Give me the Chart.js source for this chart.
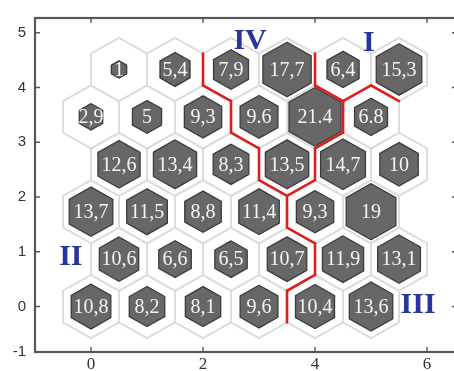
<!DOCTYPE html>
<html>
<head>
<meta charset="utf-8">
<script src="https://cdn.jsdelivr.net/npm/chart.js@4/dist/chart.umd.min.js"></script>
<style>
  html, body { margin: 0; padding: 0; background: #ffffff; overflow: hidden; }
  canvas { display: block; }
</style>
</head>
<body>
<canvas id="som" width="458" height="371"></canvas>
<script>
// Values printed in each map cell, one array per row of the hexagonal grid (bottom row first)
const row0 = ['10,8', '8,2', '8,1', '9,6', '10,4', '13,6'];
const row1 = ['10,6', '6,6', '6,5', '10,7', '11,9', '13,1'];
const row2 = ['13,7', '11,5', '8,8', '11,4', '9,3', '19'];
const row3 = ['12,6', '13,4', '8,3', '13,5', '14,7', '10'];
const row4 = ['2,9', '5', '9,3', '9.6', '21.4', '6.8'];
const row5 = ['1', '5,4', '7,9', '17,7', '6,4', '15,3'];

// Cluster that each cell belongs to, same layout
const cluster0 = ['II', 'II', 'II', 'II', 'III', 'III'];
const cluster1 = ['II', 'II', 'II', 'II', 'III', 'III'];
const cluster2 = ['II', 'II', 'II', 'II', 'III', 'III'];
const cluster3 = ['II', 'II', 'II', 'IV', 'III', 'III'];
const cluster4 = ['II', 'II', 'II', 'IV', 'IV', 'III'];
const cluster5 = ['II', 'II', 'IV', 'IV', 'I', 'I'];

// Cluster names and where they are written
const regionNames = ['I', 'II', 'III', 'IV'];
const regionX = [4.96, -0.36, 5.84, 2.84];
const regionY = [4.80, 0.90, 0.02, 4.84];

// Axis ticks
const xTicks = [0, 2, 4, 6];
const yTicks = [-1, 0, 1, 2, 3, 4, 5];

const X_MIN = -1, X_MAX = 6.535;
const Y_MIN = -0.83, Y_MAX = 5.27;

// ---- build the grid ----
const rows = [row0, row1, row2, row3, row4, row5];
const clusters = [cluster0, cluster1, cluster2, cluster3, cluster4, cluster5];
const HEX_R = 1 / Math.sqrt(3);          // circumradius of a unit-width pointy-top hexagon
const ROW_STEP = Math.sqrt(3) / 2;

const cells = [];
rows.forEach((row, r) => {
  row.forEach((label, c) => {
    cells.push({
      x: c + (r % 2 ? 0.5 : 0),
      y: r * ROW_STEP,
      label: label,
      value: parseFloat(label.replace(',', '.')),
      cluster: clusters[r][c]
    });
  });
});
const maxValue = Math.max(...cells.map(d => d.value));

// Edges shared by neighbouring cells of different clusters
const borders = [];
for (let i = 0; i < cells.length; i++) {
  for (let j = i + 1; j < cells.length; j++) {
    const a = cells[i], b = cells[j];
    const dx = b.x - a.x, dy = b.y - a.y, d = Math.hypot(dx, dy);
    if (Math.abs(d - 1) > 0.01 || a.cluster === b.cluster) continue;
    const mx = (a.x + b.x) / 2, my = (a.y + b.y) / 2;
    const px = -dy / d * HEX_R / 2, py = dx / d * HEX_R / 2;
    borders.push([{ x: mx - px, y: my - py }, { x: mx + px, y: my + py }]);
  }
}

function hexPath(ctx, xs, ys, cx, cy, r) {
  ctx.beginPath();
  for (let k = 0; k < 6; k++) {
    const a = Math.PI / 2 + k * Math.PI / 3;
    const px = xs.getPixelForValue(cx + r * Math.cos(a));
    const py = ys.getPixelForValue(cy + r * Math.sin(a));
    if (k === 0) ctx.moveTo(px, py); else ctx.lineTo(px, py);
  }
  ctx.closePath();
}

// Draws the hexagonal cells of the first dataset
const hexCells = {
  id: 'hexCells',
  beforeDatasetsDraw(chart) {
    const { ctx, chartArea, scales: { x, y } } = chart;
    const data = chart.data.datasets[0].data;
    ctx.save();
    ctx.beginPath();
    ctx.rect(chartArea.left, chartArea.top, chartArea.right - chartArea.left, chartArea.bottom - chartArea.top);
    ctx.clip();
    // cell outlines
    ctx.lineWidth = 2;
    ctx.strokeStyle = '#dcdcdc';
    ctx.fillStyle = '#ffffff';
    data.forEach(d => {
      hexPath(ctx, x, y, d.x, d.y, HEX_R);
      ctx.fill();
      ctx.stroke();
    });
    // value hexagons
    ctx.lineWidth = 1.3;
    ctx.strokeStyle = '#3c3c3c';
    ctx.fillStyle = '#676767';
    data.forEach(d => {
      const f = 0.93 * Math.pow(d.value / maxValue, 0.4);
      hexPath(ctx, x, y, d.x, d.y, HEX_R * f);
      ctx.fill();
      ctx.stroke();
    });
    // value labels
    ctx.fillStyle = '#f4f4f4';
    ctx.font = '20px "Liberation Serif", "DejaVu Serif", serif';
    ctx.textAlign = 'center';
    ctx.textBaseline = 'middle';
    data.forEach(d => {
      ctx.fillText(d.label, x.getPixelForValue(d.x), y.getPixelForValue(d.y) + 1);
    });
    ctx.restore();
  },
  afterDatasetsDraw(chart) {
    const { ctx, chartArea: a, scales: { x, y } } = chart;
    ctx.save();
    // cluster names
    ctx.fillStyle = '#28359a';
    ctx.font = 'bold 30px "Liberation Serif", "DejaVu Serif", serif';
    ctx.textAlign = 'center';
    ctx.textBaseline = 'middle';
    regionNames.forEach((n, i) => {
      ctx.fillText(n, x.getPixelForValue(regionX[i]), y.getPixelForValue(regionY[i]));
    });
    // frame
    ctx.strokeStyle = '#585858';
    ctx.lineWidth = 2.2;
    ctx.strokeRect(a.left, a.top, a.right - a.left, a.bottom - a.top);
    // inward ticks on all four sides
    ctx.lineWidth = 1.4;
    x.ticks.forEach(t => {
      const px = x.getPixelForValue(t.value);
      ctx.beginPath();
      ctx.moveTo(px, a.bottom); ctx.lineTo(px, a.bottom - 5);
      ctx.moveTo(px, a.top); ctx.lineTo(px, a.top + 5);
      ctx.stroke();
    });
    y.ticks.forEach(t => {
      if (t.value <= Y_MIN) return;
      const py = y.getPixelForValue(t.value);
      ctx.beginPath();
      ctx.moveTo(a.left, py); ctx.lineTo(a.left + 5, py);
      ctx.moveTo(a.right, py); ctx.lineTo(a.right - 5, py);
      ctx.stroke();
    });
    ctx.restore();
  }
};

const datasets = [{
  label: 'cells',
  data: cells,
  pointRadius: 0,
  pointHoverRadius: 0,
  showLine: false
}];
borders.forEach(seg => {
  datasets.push({
    label: 'border',
    data: seg,
    showLine: true,
    borderColor: '#e01e1e',
    borderWidth: 2.6,
    borderCapStyle: 'round',
    pointRadius: 0,
    pointHoverRadius: 0,
    fill: false
  });
});

new Chart(document.getElementById('som'), {
  type: 'scatter',
  data: { datasets },
  options: {
    responsive: false,
    animation: false,
    devicePixelRatio: 1,
    layout: { padding: { top: 8, right: 1, left: 0, bottom: 0 } },
    plugins: { legend: { display: false }, tooltip: { enabled: false } },
    scales: {
      x: {
        type: 'linear',
        min: X_MIN,
        max: X_MAX,
        afterBuildTicks: s => { s.ticks = xTicks.map(v => ({ value: v })); },
        afterFit: s => { s.height = 19; },
        grid: { display: false, drawTicks: false },
        border: { display: false },
        ticks: {
          autoSkip: false,
          maxRotation: 0,
          padding: 2,
          color: '#333333',
          font: { family: '"Liberation Serif", serif', size: 17 },
          callback: (v, i) => String(xTicks[i])
        }
      },
      y: {
        type: 'linear',
        min: Y_MIN,
        max: Y_MAX,
        afterBuildTicks: s => { s.ticks = yTicks.map(v => ({ value: Math.max(v, Y_MIN) })); },
        afterFit: s => { s.width = 35; },
        grid: { display: false, drawTicks: false },
        border: { display: false },
        ticks: {
          autoSkip: false,
          padding: 9,
          color: '#333333',
          font: { family: '"Liberation Sans", Arial, sans-serif', size: 15 },
          callback: (v, i) => String(yTicks[i])
        }
      }
    }
  },
  plugins: [hexCells]
});
</script>
</body>
</html>
